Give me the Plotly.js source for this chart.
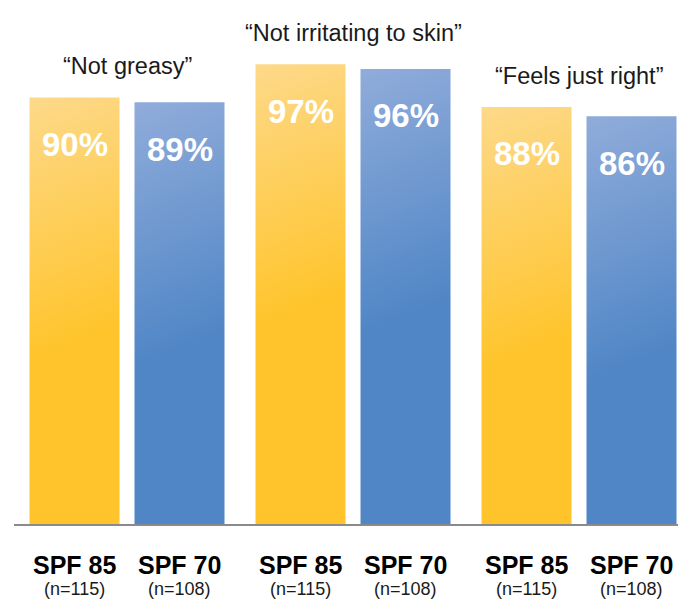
<!DOCTYPE html>
<html>
<head>
<meta charset="utf-8">
<script src="https://cdn.plot.ly/plotly-3.0.1.min.js"></script>
<style>html,body{margin:0;padding:0;background:#fff;}</style>
</head>
<body>
<div id="chart" style="width:678px;height:601px;"></div>
<script>
const categories = ["“Not greasy”", "“Not irritating to skin”", "“Feels just right”"];
const spf85 = [90, 97, 88];
const spf70 = [89, 96, 86];
const seriesNames = ["SPF 85", "SPF 70"];
const sampleSizes = ["(n=115)", "(n=108)"];

const FONT = "Liberation Sans, Arial, Helvetica, sans-serif";
const colors = ["#FFC42B", "#5086C6"];
const lightColors = ["#FDD98A", "#90ACDA"];

const traces = [
  {type: "bar", x: categories, y: spf85, name: seriesNames[0], marker: {color: colors[0], line: {width: 0}}, hoverinfo: "none"},
  {type: "bar", x: categories, y: spf70, name: seriesNames[1], marker: {color: colors[1], line: {width: 0}}, hoverinfo: "none"}
];

const annotations = [];
const series = [spf85, spf70];
const shifts = [-52.5, 52.5];
categories.forEach((cat, i) => {
  const top = Math.max(spf85[i], spf70[i]);
  annotations.push({x: cat, y: top, xref: "x", yref: "y", text: cat, showarrow: false,
    yanchor: "middle", yshift: 31, font: {family: FONT, size: 23.5, color: "#1a1a1a"}});
  series.forEach((s, k) => {
    annotations.push({x: cat, y: s[i], xref: "x", yref: "y", text: "<b>" + s[i] + "%</b>", showarrow: false,
      xshift: shifts[k], yanchor: "middle", yshift: -47, font: {family: FONT, size: 33, color: "#ffffff"}});
    annotations.push({x: cat, y: 0, xref: "x", yref: "paper", text: "<b>" + seriesNames[k] + "</b>", showarrow: false,
      xshift: shifts[k], yanchor: "middle", yshift: -41, font: {family: FONT, size: 25, color: "#000000"}});
    annotations.push({x: cat, y: 0, xref: "x", yref: "paper", text: sampleSizes[k], showarrow: false,
      xshift: shifts[k], yanchor: "middle", yshift: -65, borderpad: 0, font: {family: FONT, size: 18, color: "#1a1a1a"}});
  });
});

const layout = {
  width: 678, height: 601,
  margin: {l: 14, r: 0, t: 50, b: 77, pad: 0},
  paper_bgcolor: "#ffffff", plot_bgcolor: "#ffffff",
  barmode: "group", bargap: 0.0708, bargroupgap: 0.1429,
  showlegend: false,
  xaxis: {type: "category", range: [-0.5, 2.438], showticklabels: false, ticks: "",
          showline: true, linecolor: "#8a8a8a", linewidth: 2, showgrid: false, zeroline: false, layer: "below traces", fixedrange: true},
  yaxis: {range: [0, 100], visible: false, showgrid: false, zeroline: false, fixedrange: true},
  annotations: annotations
};

Plotly.newPlot("chart", traces, layout, {staticPlot: true, displayModeBar: false}).then(gd => {
  const svgNS = "http://www.w3.org/2000/svg";
  const defs = gd.querySelector(".main-svg defs");
  gd.querySelectorAll(".barlayer .trace").forEach((tr, ti) => {
    tr.querySelectorAll(".point path").forEach((p, pi) => {
      const b = p.getBBox();
      const id = "grad_" + ti + "_" + pi;
      const g = document.createElementNS(svgNS, "linearGradient");
      g.setAttribute("id", id);
      g.setAttribute("gradientUnits", "userSpaceOnUse");
      g.setAttribute("x1", b.x); g.setAttribute("y1", b.y);
      g.setAttribute("x2", b.x + b.width); g.setAttribute("y2", b.y + 230);
      const s1 = document.createElementNS(svgNS, "stop");
      s1.setAttribute("offset", "0"); s1.setAttribute("stop-color", lightColors[ti % 2]);
      const s2 = document.createElementNS(svgNS, "stop");
      s2.setAttribute("offset", "1"); s2.setAttribute("stop-color", colors[ti % 2]);
      g.appendChild(s1); g.appendChild(s2);
      defs.appendChild(g);
      p.style.fill = "url(#" + id + ")";
    });
  });
});
</script>
</body>
</html>
